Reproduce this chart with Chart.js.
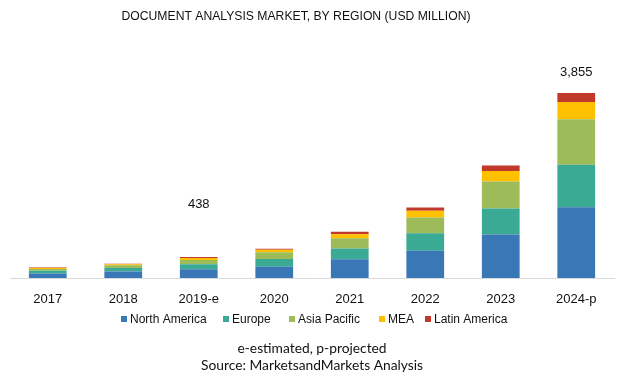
<!DOCTYPE html>
<html>
<head>
<meta charset="utf-8">
<script src="https://cdn.jsdelivr.net/npm/chart.js@4.4.1/dist/chart.umd.min.js"></script>
<style>
html,body{margin:0;padding:0;background:#fff;}
#wrap{width:624px;height:381px;position:relative;}
</style>
</head>
<body>
<div id="wrap"><canvas id="c" width="624" height="381"></canvas></div>
<script>
const categories = ['2017', '2018', '2019-e', '2020', '2021', '2022', '2023', '2024-p'];
const northAmerica = [95, 135, 180, 236, 390, 570, 904, 1475];
const europe = [55, 75, 105, 160, 222, 363, 543, 882];
const asiaPacific = [40, 55, 90, 140, 217, 326, 564, 952];
const mea = [20, 22, 42, 54, 84, 140, 217, 358];
const latinAmerica = [10, 11, 21, 21, 48, 69, 117, 188];
const totalLabels = ['', '', '438', '', '', '', '', '3,855'];
const seriesNames = ['North America', 'Europe', 'Asia Pacific', 'MEA', 'Latin America'];
const titleText = 'DOCUMENT ANALYSIS MARKET, BY REGION (USD MILLION)';
const footerLines = ['e-estimated, p-projected', 'Source: MarketsandMarkets Analysis'];

const colors = ['#3a77b7', '#3aaa94', '#9dbb59', '#ffc000', '#c0392b'];
const seriesData = [northAmerica, europe, asiaPacific, mea, latinAmerica];

const labelOffsets = [0, 0, 53, 0, 0, 0, 0, 21];

const decorPlugin = {
  id: 'decor',
  afterDraw(chart) {
    const ctx = chart.ctx;
    ctx.save();
    // title
    ctx.fillStyle = '#111';
    ctx.font = '13px "Liberation Sans", Arial, sans-serif';
    ctx.textAlign = 'center';
    ctx.textBaseline = 'middle';
    ctx.fillText(titleText, 296, 16, 349);
    // total labels
    const xs = chart.scales.x, ys = chart.scales.y;
    ctx.font = '13px "Liberation Sans", Arial, sans-serif';
    ctx.fillStyle = '#111';
    categories.forEach((c, i) => {
      if (!totalLabels[i]) return;
      let tot = 0;
      seriesData.forEach(s => tot += s[i]);
      const x = xs.getPixelForValue(i);
      const y = ys.getPixelForValue(tot) - labelOffsets[i];
      ctx.fillText(totalLabels[i], x, y);
    });
    // legend
    ctx.font = '12px "Liberation Sans", Arial, sans-serif';
    ctx.textAlign = 'left';
    const legendX = [121, 223, 289, 379, 425];
    chart.data.datasets.forEach((ds, i) => {
      ctx.fillStyle = ds.backgroundColor;
      ctx.fillRect(legendX[i], 316, 6, 6);
      ctx.fillStyle = '#111';
      ctx.fillText(ds.label, legendX[i] + 9, 319.5);
    });
    // footer
    ctx.font = '13.8px Lato, "Open Sans", sans-serif';
    ctx.textAlign = 'center';
    ctx.fillStyle = '#111';
    ctx.fillText(footerLines[0], 312, 349);
    ctx.fillText(footerLines[1], 312, 366);
    ctx.restore();
  }
};

new Chart(document.getElementById('c'), {
  type: 'bar',
  data: {
    labels: categories,
    datasets: seriesNames.map((n, i) => ({
      label: n,
      data: seriesData[i],
      backgroundColor: colors[i],
      borderWidth: 0,
      categoryPercentage: 1.0,
      barPercentage: 0.5
    }))
  },
  options: {
    responsive: false,
    animation: false,
    layout: { padding: { top: 62, left: 10, right: 10, bottom: 0 } },
    plugins: {
      legend: { display: false },
      title: { display: false },
      tooltip: { enabled: false }
    },
    scales: {
      x: {
        stacked: true,
        grid: { display: false },
        border: { display: true, color: '#d9d9d9', width: 1 },
        ticks: { color: '#111', font: { family: '"Liberation Sans", Arial, sans-serif', size: 13 }, padding: 6 },
        afterFit(scale) { scale.height = 103; }
      },
      y: {
        stacked: true,
        display: false,
        min: 0,
        max: 4500
      }
    }
  },
  plugins: [decorPlugin]
});
</script>
</body>
</html>
